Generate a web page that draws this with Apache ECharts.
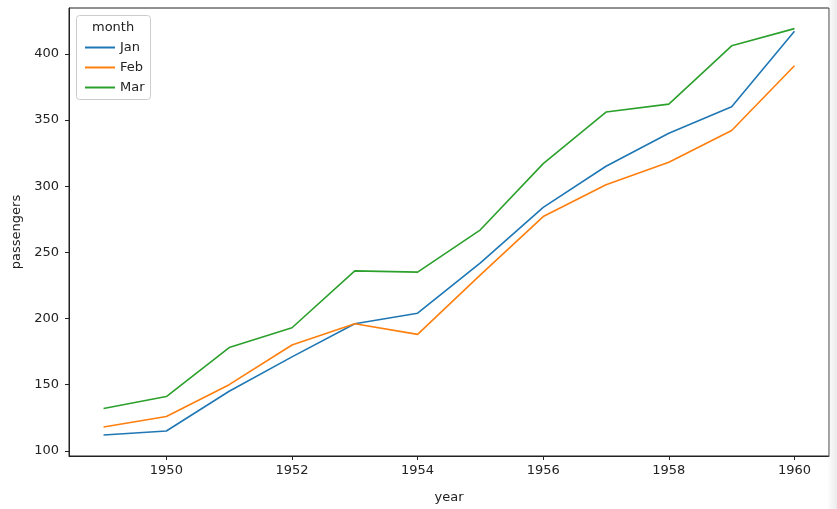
<!DOCTYPE html>
<html>
<head>
<meta charset="utf-8">
<script src="https://cdn.jsdelivr.net/npm/echarts@6/dist/echarts.min.js"></script>
<style>
html,body{margin:0;padding:0;background:#fff;}
#chart{width:837px;height:509px;}
</style>
</head>
<body>
<div id="chart"></div>
<script>
const years = [1949,1950,1951,1952,1953,1954,1955,1956,1957,1958,1959,1960];
const jan = [112,115,145,171,196,204,242,284,315,340,360,417];
const feb = [118,126,150,180,196,188,233,277,301,318,342,391];
const mar = [132,141,178,193,236,235,267,317,356,362,406,419];
const xTicks = [1950,1952,1954,1956,1958,1960];
const yTicks = [100,150,200,250,300,350,400];
const monthNames = ['Jan','Feb','Mar'];
const colors = ['#1f77b4','#ff7f0e','#2ca02c'];

const seriesData = [jan, feb, mar];
const chart = echarts.init(document.getElementById('chart'), null, {renderer:'canvas'});
const font = 'DejaVu Sans';
chart.setOption({
  animation:false,
  textStyle:{fontFamily:font},
  grid:{left:69,right:8,top:8,bottom:48,show:true,borderColor:'#222',borderWidth:1,backgroundColor:'transparent'},
  xAxis:{
    type:'value',min:1948.45,max:1960.55,
    name:'year',nameLocation:'middle',nameGap:35,
    nameTextStyle:{fontSize:13,color:'#222',fontFamily:font},
    axisLine:{show:true,lineStyle:{color:'#222',width:1}},
    axisTick:{show:true,customValues:xTicks,length:4,lineStyle:{color:'#222'}},
    axisLabel:{customValues:xTicks,fontSize:13,color:'#222',margin:8,fontFamily:font,formatter:v=>String(v)},
    splitLine:{show:false}
  },
  yAxis:{
    type:'value',min:96.1,max:434.6,
    name:'passengers',nameLocation:'middle',nameGap:43,
    nameTextStyle:{fontSize:13,color:'#222',fontFamily:font},
    axisLine:{show:true,lineStyle:{color:'#222',width:1}},
    axisTick:{show:true,customValues:yTicks,length:4,lineStyle:{color:'#222'}},
    axisLabel:{customValues:yTicks,fontSize:13,color:'#222',margin:10,fontFamily:font},
    splitLine:{show:false}
  },
  legend:{
    orient:'vertical',left:80,top:36,itemWidth:30,itemHeight:2,itemGap:7,icon:'rect',z:100,
    textStyle:{fontSize:13,color:'#222',fontFamily:font},
    data:monthNames
  },
  graphic:[
    {type:'rect',left:76,top:15,shape:{width:74,height:84,r:3},style:{fill:'rgba(255,255,255,0.85)',stroke:'#ccc',lineWidth:1},z:5},
    {type:'text',left:92,top:21,style:{text:'month',fontSize:13,fill:'#222',fontFamily:font},z:6},
    {type:'rect',right:0,top:0,shape:{width:10,height:509},style:{fill:new echarts.graphic.LinearGradient(0,0,1,0,[{offset:0,color:'rgba(235,235,235,0)'},{offset:1,color:'rgba(235,235,235,1)'}])},z:1,silent:true}
  ],
  series: monthNames.map((m,i)=>({
    name:m,type:'line',data:years.map((y,j)=>[y,seriesData[i][j]]),
    showSymbol:false,symbol:'none',lineStyle:{width:1.6,color:colors[i]},itemStyle:{color:colors[i]},z:2
  }))
});
</script>
</body>
</html>
